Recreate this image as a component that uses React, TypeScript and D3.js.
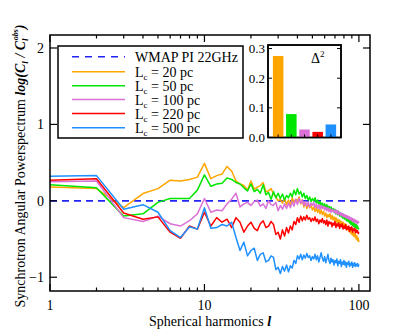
import React from 'react'
import * as d3 from 'd3'

// multipole l = 1..100
const ells = d3.range(1, 101)

const lc20 = [0.18, 0.16, -0.09, 0.095, 0.16, 0.27, 0.26, 0.28, 0.31, 0.49,
  0.29, 0.33, 0.35, 0.45, 0.39, 0.26, 0.22, 0.2, 0.14, 0.26,
  0.15, 0.18, 0.2, 0.24, 0.12, 0.13, 0.16, 0.09, 0.05, 0.0,
  0.02, -0.03, 0.03, -0.05, 0.01, -0.06, 0.04, -0.02, 0.02, 0.0,
  0.05, -0.04, 0.01, -0.08, -0.02, -0.1, -0.05, -0.09, -0.06, -0.12,
  -0.08, -0.14, -0.09, -0.15, -0.11, -0.17, -0.12, -0.18, -0.14, -0.2,
  -0.16, -0.22, -0.18, -0.21, -0.17, -0.24, -0.19, -0.25, -0.21, -0.26,
  -0.22, -0.28, -0.24, -0.3, -0.25, -0.31, -0.27, -0.33, -0.28, -0.32,
  -0.3, -0.36, -0.31, -0.38, -0.34, -0.4, -0.36, -0.42, -0.38, -0.44,
  -0.4, -0.46, -0.42, -0.47, -0.44, -0.5, -0.46, -0.52, -0.49, -0.54]

const lc50 = [0.21, 0.17, -0.2, -0.17, -0.02, 0.03, 0.03, 0.03, 0.14, 0.34,
  0.19, 0.22, 0.23, 0.3, 0.28, 0.24, 0.22, 0.17, 0.13, 0.22,
  0.12, 0.15, 0.1, 0.21, 0.08, 0.11, 0.02, 0.12, 0.04, 0.1,
  0.03, 0.09, 0.01, 0.07, 0.04, 0.1, 0.05, 0.14, 0.08, 0.16,
  0.09, 0.12, 0.05, 0.1, 0.03, 0.07, 0.01, 0.05, -0.01, 0.03,
  0.0, 0.04, -0.03, 0.01, -0.05, -0.01, -0.06, -0.03, -0.08, -0.04,
  -0.09, -0.05, -0.11, -0.07, -0.12, -0.08, -0.13, -0.1, -0.15, -0.11,
  -0.17, -0.13, -0.18, -0.14, -0.2, -0.16, -0.21, -0.17, -0.23, -0.19,
  -0.24, -0.2, -0.26, -0.22, -0.27, -0.23, -0.29, -0.25, -0.31, -0.27,
  -0.32, -0.29, -0.34, -0.3, -0.35, -0.31, -0.36, -0.33, -0.37, -0.35]

const lc100 = [0.25, 0.26, -0.22, -0.27, -0.2, -0.3, -0.33, -0.26, -0.17, 0.03,
  -0.15, -0.12, -0.13, -0.04, 0.02, 0.1, -0.08, -0.04, -0.02, -0.06,
  -0.01, 0.01, -0.07, -0.04, -0.1, 0.0, -0.05, -0.06, -0.02, -0.13,
  -0.06, -0.11, -0.04, -0.1, -0.03, -0.09, -0.01, -0.07, 0.02, -0.05,
  0.03, -0.03, 0.01, -0.06, -0.01, -0.07, -0.02, -0.08, -0.03, -0.06,
  -0.02, -0.09, -0.04, -0.1, -0.05, -0.11, -0.06, -0.1, -0.07, -0.12,
  -0.08, -0.13, -0.09, -0.14, -0.1, -0.15, -0.11, -0.14, -0.12, -0.16,
  -0.12, -0.17, -0.13, -0.18, -0.15, -0.19, -0.16, -0.2, -0.17, -0.21,
  -0.18, -0.22, -0.19, -0.23, -0.2, -0.24, -0.21, -0.25, -0.22, -0.26,
  -0.23, -0.27, -0.24, -0.28, -0.25, -0.29, -0.26, -0.3, -0.27, -0.29]

const lc220 = [0.27, 0.29, -0.16, -0.24, -0.21, -0.41, -0.49, -0.33, -0.37, -0.15,
  -0.33, -0.22, -0.28, -0.24, -0.35, -0.22, -0.28, -0.41, -0.33, -0.28,
  -0.36, -0.39, -0.3, -0.26, -0.35, -0.33, -0.27, -0.31, -0.44, -0.41,
  -0.5, -0.38, -0.46, -0.35, -0.42, -0.33, -0.38, -0.27, -0.31, -0.22,
  -0.28, -0.2, -0.26, -0.21, -0.25, -0.19, -0.24, -0.22, -0.27, -0.23,
  -0.26, -0.21, -0.27, -0.24, -0.3, -0.25, -0.28, -0.23, -0.29, -0.26,
  -0.31, -0.25, -0.33, -0.27, -0.3, -0.28, -0.34, -0.29, -0.32, -0.27,
  -0.35, -0.3, -0.33, -0.29, -0.36, -0.31, -0.34, -0.3, -0.37, -0.33,
  -0.36, -0.31, -0.38, -0.34, -0.37, -0.33, -0.4, -0.35, -0.38, -0.34,
  -0.41, -0.37, -0.39, -0.36, -0.42, -0.38, -0.41, -0.39, -0.43, -0.41]

const lc500 = [0.32, 0.33, -0.11, -0.05, -0.15, -0.39, -0.48, -0.34, -0.37, -0.09,
  -0.36, -0.35, -0.31, -0.33, -0.28, -0.48, -0.65, -0.54, -0.72, -0.65,
  -0.62, -0.78, -0.7, -0.68, -0.8, -0.78, -0.72, -0.74, -0.9, -0.87,
  -0.95, -0.86, -0.92, -0.84, -0.93, -0.85, -0.88, -0.78, -0.82, -0.72,
  -0.76, -0.7, -0.77, -0.71, -0.75, -0.69, -0.74, -0.72, -0.78, -0.73,
  -0.76, -0.7, -0.77, -0.72, -0.8, -0.74, -0.68, -0.75, -0.79, -0.73,
  -0.81, -0.76, -0.7, -0.78, -0.82, -0.75, -0.8, -0.77, -0.84, -0.78,
  -0.81, -0.76, -0.85, -0.79, -0.82, -0.77, -0.86, -0.8, -0.83, -0.78,
  -0.84, -0.8, -0.87, -0.81, -0.83, -0.79, -0.86, -0.82, -0.84, -0.8,
  -0.87, -0.82, -0.85, -0.81, -0.86, -0.83, -0.85, -0.82, -0.86, -0.83]

const scales = ['20', '50', '100', '220', '500']
const colors = ['#ffa500', '#00e600', '#da70d6', '#ff0000', '#1e90ff']
const seriesValues = [lc20, lc50, lc100, lc220, lc500]

// inset: Delta^2 for each Lc
const delta2 = [0.275, 0.079, 0.027, 0.019, 0.044]

const yTicks = [-1, 0, 1, 2]
const insetTicks = [0, 0.1, 0.2, 0.3]

const font = "'Liberation Serif', 'DejaVu Serif', serif"

export default function App() {
  const left = 50, right = 370, top = 35, bottom = 291
  const x = d3.scaleLog().domain([1, 118]).range([left, right])
  const y = d3.scaleLinear().domain([-1.18, 2.17]).range([bottom, top])

  const line = d3.line<number>()
    .x((d, i) => x(ells[i]))
    .y(d => y(d))

  const xTicks = x.ticks()
  const isMajor = (t: number) => Math.abs(Math.log10(t) - Math.round(Math.log10(t))) < 1e-6

  // inset geometry
  const iL = 268, iR = 341, iT = 45, iB = 137.5
  const ix = d3.scaleBand<string>().domain(scales).range([iL, iR]).paddingInner(0.2).paddingOuter(0.37)
  const iy = d3.scaleLinear().domain([0, 0.312]).range([iB, iT])

  const legendRows = [56.7, 71.7, 85.7, 99.5, 113.5, 127.7]

  return (
    <svg width={400} height={333} style={{ position: 'absolute', left: 0, top: 0, fontFamily: font }}>
      <rect width={400} height={333} fill="#fff" />

      {/* reference WMAP line */}
      <line x1={x(1)} x2={x(100)} y1={y(0)} y2={y(0)} stroke="#2323f5" strokeWidth={1.6} strokeDasharray="7,5" />

      {seriesValues.map((vals, i) => (
        <path key={i} d={line(vals) || ''} fill="none" stroke={colors[i]} strokeWidth={1.5} strokeLinejoin="round" />
      ))}

      {/* frame */}
      <rect x={left} y={top} width={right - left} height={bottom - top} fill="none" stroke="#000" strokeWidth={1.5} />

      {xTicks.map(t => {
        const len = isMajor(t) ? 7 : 3.5
        return (
          <g key={'x' + t}>
            <line x1={x(t)} x2={x(t)} y1={bottom} y2={bottom - len} stroke="#000" strokeWidth={1.2} />
            <line x1={x(t)} x2={x(t)} y1={top} y2={top + len} stroke="#000" strokeWidth={1.2} />
          </g>
        )
      })}
      {[1, 10, 100].map(t => (
        <text key={'xl' + t} x={x(t)} y={310} fontSize={14} textAnchor="middle">{t}</text>
      ))}

      {yTicks.map(t => (
        <g key={'y' + t}>
          <line x1={left} x2={left + 7} y1={y(t)} y2={y(t)} stroke="#000" strokeWidth={1.2} />
          <line x1={right} x2={right - 7} y1={y(t)} y2={y(t)} stroke="#000" strokeWidth={1.2} />
          <text x={44} y={y(t) + 5} fontSize={14} textAnchor="end">{t < 0 ? '\u2212' + Math.abs(t) : t}</text>
        </g>
      ))}

      {/* axis titles */}
      <text x={210} y={326} fontSize={14} textAnchor="middle">
        Spherical harmonics <tspan fontWeight="bold" fontStyle="italic">l</tspan>
      </text>
      <text transform="translate(25,166) rotate(-90)" fontSize={14} textAnchor="middle">
        Synchrotron Angular Powerspectrum{' '}
        <tspan fontWeight="bold" fontStyle="italic">log(C</tspan>
        <tspan fontWeight="bold" fontStyle="italic" fontSize={9} dy={3}>l</tspan>
        <tspan fontWeight="bold" fontStyle="italic" dy={-3}> / C</tspan>
        <tspan fontWeight="bold" fontStyle="italic" fontSize={9} dy={3}>l</tspan>
        <tspan fontWeight="bold" fontStyle="italic" fontSize={8} dx={-2} dy={-10}>obs</tspan>
        <tspan fontWeight="bold" fontStyle="italic" dy={7}>)</tspan>
      </text>

      {/* legend */}
      <rect x={58} y={46} width={185} height={92} fill="#fff" stroke="#000" strokeWidth={1.5} />
      <line x1={72} x2={125} y1={legendRows[0]} y2={legendRows[0]} stroke="#2323f5" strokeWidth={1.6} strokeDasharray="7,6" />
      <text x={135} y={legendRows[0] + 5} fontSize={14}>WMAP PI 22GHz</text>
      {scales.map((s, i) => (
        <g key={'lg' + s}>
          <line x1={72} x2={125} y1={legendRows[i + 1]} y2={legendRows[i + 1]} stroke={colors[i]} strokeWidth={1.5} />
          <text x={135} y={legendRows[i + 1] + 5} fontSize={14}>
            L<tspan fontSize={9} dy={3}>c</tspan><tspan dy={-3}> = {s} pc</tspan>
          </text>
        </g>
      ))}

      {/* inset bar chart */}
      <rect x={iL} y={iT} width={iR - iL} height={iB - iT} fill="#fff" stroke="#000" strokeWidth={1.5} />
      {delta2.map((v, i) => (
        <rect key={'b' + i} x={ix(scales[i])} y={iy(v)} width={ix.bandwidth()} height={iB - iy(v)} fill={colors[i]} />
      ))}
      {scales.map(s => (
        <line key={'bt' + s} x1={(ix(s) || 0) + ix.bandwidth() / 2} x2={(ix(s) || 0) + ix.bandwidth() / 2} y1={iB} y2={iB - 3} stroke="#000" strokeWidth={1} />
      ))}
      {insetTicks.map(t => (
        <g key={'it' + t}>
          <line x1={iL} x2={iL + 4} y1={iy(t)} y2={iy(t)} stroke="#000" strokeWidth={1} />
          <line x1={iR} x2={iR - 4} y1={iy(t)} y2={iy(t)} stroke="#000" strokeWidth={1} />
          <text x={265} y={iy(t) + 4.5} fontSize={13} textAnchor="end">{t.toFixed(1)}</text>
        </g>
      ))}
      <rect x={iL} y={iT} width={iR - iL} height={iB - iT} fill="none" stroke="#000" strokeWidth={1.5} />
      <text x={311} y={63} fontSize={14}>
        Δ<tspan fontSize={9} dy={-6}>2</tspan>
      </text>
    </svg>
  )
}
